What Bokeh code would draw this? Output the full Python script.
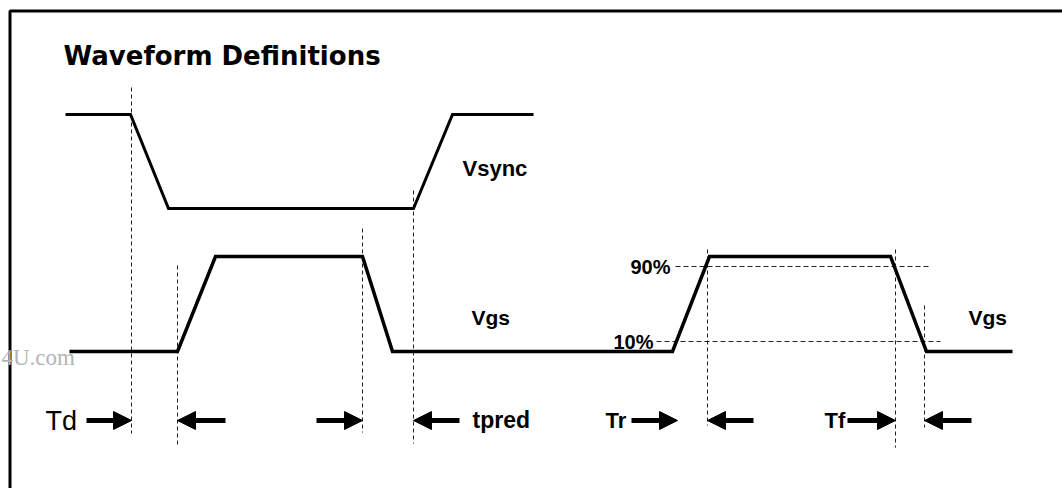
from bokeh.plotting import figure
from bokeh.models import Range1d, ColumnDataSource, Arrow, NormalHead
from bokeh.core.properties import value
from bokeh.embed import file_html
from bokeh.resources import INLINE

# ---- data (diagram units = reference pixels) ----
frame_x = [9.5, 9.5, 1062]
frame_y = [488, 10.5, 10.5]

vsync_x = [65, 130, 168, 413, 452, 533]
vsync_y = [114, 114, 208, 208, 114, 114]

vgs_x = [69, 177, 215, 362, 392, 672, 709, 890, 926, 1012]
vgs_y = [351, 351, 256, 256, 351, 351, 256, 256, 351, 351]

marker_x = [131, 177, 362, 413, 707, 895, 924]
marker_top = [87, 265, 228, 190, 249, 249, 305]
marker_bottom = [433, 447, 432, 443, 425, 447, 427]

level_labels = ["90%", "10%"]
level_y = [266, 341]
level_x0 = [675, 656]
level_x1 = [928, 940]

arrow_y = 420
arrow_from = [86, 225, 316, 459, 631, 753, 847, 971]
arrow_to = [131, 177, 362, 413, 677, 707, 895, 924]

bold_labels = ["Vsync", "Vgs", "Vgs", "tpred", "Tr", "Tf"]
bold_x = [462, 471, 968, 472, 605, 824]
bold_y = [168, 317, 317, 419, 420, 420]
bold_size = ["22px", "21px", "21px", "23px", "22px", "22px"]

p = figure(width=1062, height=488, x_range=Range1d(0, 1062), y_range=Range1d(488, 0),
           output_backend="svg", toolbar_location=None, min_border=0)
p.axis.visible = False
p.xgrid.visible = False
p.ygrid.visible = False
p.outline_line_color = None
p.background_fill_color = "white"
p.border_fill_color = "white"

# frame
p.line(frame_x, frame_y, line_width=3, line_color="black")

# dashed marker lines
p.segment(x0=marker_x, y0=marker_top, x1=marker_x, y1=marker_bottom,
          line_color="#222222", line_width=1, line_dash="4 3")
p.segment(x0=level_x0, y0=level_y, x1=level_x1, y1=level_y,
          line_color="#222222", line_width=1, line_dash="5 3")

# waveforms
p.line(vsync_x, vsync_y, line_width=3, line_color="black", line_join="miter")
p.line(vgs_x, vgs_y, line_width=3.5, line_color="black", line_join="miter")

# arrows
asrc = ColumnDataSource(dict(x0=arrow_from, x1=arrow_to,
                             y=[arrow_y] * len(arrow_from)))
p.add_layout(Arrow(source=asrc, x_start="x0", y_start="y", x_end="x1", y_end="y",
                   line_width=5, line_color="black",
                   end=NormalHead(size=18, fill_color="black", line_color="black")))

# texts
p.text(x=[63], y=[55], text=["Waveform Definitions"], text_font=value("DejaVu Sans"),
       text_font_style="bold", text_font_size="26px", text_baseline="alphabetic",
       text_color="black")
p.text(x=bold_x, y=bold_y, text=bold_labels, text_font=value("Liberation Sans"),
       text_font_style="bold", text_font_size=bold_size, text_baseline="middle",
       text_color="black")
p.text(x=[45], y=[420], text=["Td"], text_font=value("Liberation Sans"),
       text_font_size="27px", text_baseline="middle", text_color="black")
p.text(x=[670, 653], y=level_y, text=level_labels, text_font=value("Liberation Sans"),
       text_font_style="bold", text_font_size="20px", text_baseline="middle",
       text_align="right", text_color="black")
p.text(x=[1], y=[357], text=["4U.com"], text_font=value("Liberation Serif"),
       text_font_size="23px", text_baseline="middle", text_color="#b4b4b4")

open("out.html", "w").write(file_html(p, INLINE))
